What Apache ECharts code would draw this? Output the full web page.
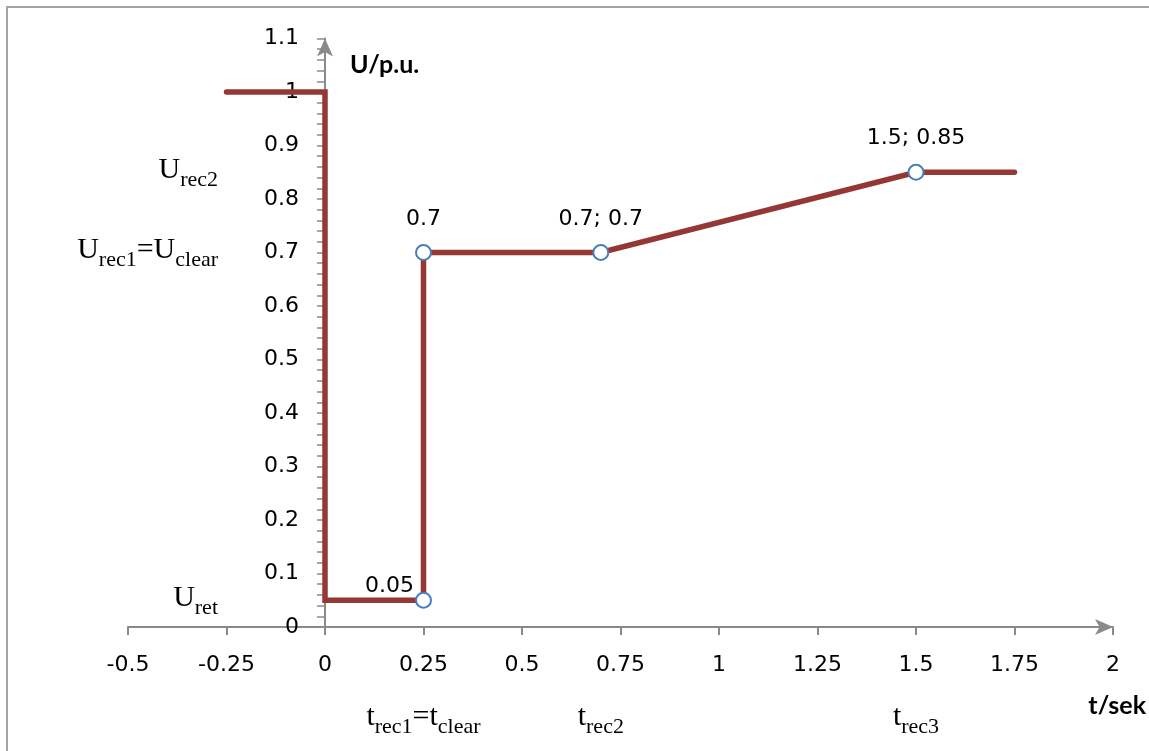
<!DOCTYPE html>
<html>
<head>
<meta charset="utf-8">
<script src="https://cdn.jsdelivr.net/npm/echarts@6/dist/echarts.min.js"></script>
<style>
html,body{margin:0;padding:0;background:#fff}
#chart{width:1149px;height:751px}
</style>
</head>
<body>
<div id="chart"></div>
<script>
// 电压曲线 (t, U)
var tVals=[-0.25,0,0,0.25,0.25,0.7,1.5,1.75];
var uVals=[1,1,0.05,0.05,0.7,0.7,0.85,0.85];
var pointLabels=['','','','0.05','0.7','0.7; 0.7','1.5; 0.85',''];
// 坐标轴范围
var xMin=-0.5,xMax=2,xStep=0.25;
var yMin=0,yMax=1.1,yStep=0.1;
// 左侧电压标注
var uLevelTexts=['{a|U}{b|rec2}','{a|U}{b|rec1}{a|=U}{b|clear}','{a|U}{b|ret}'];
var uLevelValues=[0.85,0.7,0.05];
// 下方时间标注
var tMarkTexts=['{a|t}{b|rec1}{a|=t}{b|clear}','{a|t}{b|rec2}','{a|t}{b|rec3}'];
var tMarkValues=[0.25,0.7,1.5];
var yName='U/p.u.', xName='t/sek';

var lineColor='#953735', axisColor='#8a8a8a', dotColor='#4a7ebb';
var labelFont='DejaVu Sans', serifFont='Liberation Serif';
var gridLeft=128;

var chart=echarts.init(document.getElementById('chart'));

var seriesData=tVals.map(function(t,i){
  var item={value:[t,uVals[i]]};
  if(pointLabels[i]){
    item.symbol='circle';
    item.symbolSize=15;
    item.label={show:true,formatter:pointLabels[i]};
    if(i===3){
      item.label.position='left';
      item.label.distance=1;
      item.label.offset=[0,-14];
    }
  }else{
    item.symbol='none';
  }
  return item;
});

var richSub={
  a:{fontFamily:serifFont,fontSize:30,lineHeight:30,verticalAlign:'top',color:'#000'},
  b:{fontFamily:serifFont,fontSize:22,lineHeight:22,verticalAlign:'top',padding:[14,0,0,0],color:'#000'}
};

chart.setOption({
  animation:false,
  backgroundColor:'#fff',
  grid:{left:gridLeft,right:36,top:38.5,bottom:124,containLabel:false},
  xAxis:{
    type:'value',min:xMin,max:xMax,interval:xStep,
    axisLine:{onZero:true,symbol:['none','arrow'],symbolSize:[12,18],lineStyle:{color:axisColor,width:2}},
    axisTick:{show:true,length:8,inside:false,lineStyle:{color:axisColor,width:2}},
    axisLabel:{margin:27,fontFamily:labelFont,fontSize:22,color:'#000'},
    splitLine:{show:false}
  },
  yAxis:{
    type:'value',min:yMin,max:yMax,interval:yStep,
    axisLine:{onZero:false,symbol:['none','arrow'],symbolSize:[12,18],lineStyle:{color:axisColor,width:2}},
    axisTick:{show:true,length:8,lineStyle:{color:axisColor,width:1.5}},
    minorTick:{show:true,splitNumber:5,length:8,lineStyle:{color:axisColor,width:1.5}},
    axisLabel:{margin:26,fontFamily:labelFont,fontSize:22,color:'#000'},
    splitLine:{show:false}
  },
  series:[{
    type:'line',
    data:seriesData,
    lineStyle:{color:lineColor,width:5.5,cap:'round',join:'miter'},
    itemStyle:{color:'#fff',borderColor:dotColor,borderWidth:2},
    label:{position:'top',distance:14,fontFamily:labelFont,fontSize:22,color:'#000'},
    emphasis:{disabled:true},
    z:3
  }]
});

// y轴移到 t=0 处
var zeroX=chart.convertToPixel({gridIndex:0},[0,yMin]);
chart.setOption({yAxis:{offset:-(zeroX[0]-gridLeft)}});

// 标注文字 按坐标换算位置
function drawAnnotations(){
  var g=[];
  g.push({type:'rect',shape:{x:7,y:7,width:1300,height:900},style:{fill:'none',stroke:'#a3a3a3',lineWidth:2},silent:true});
  uLevelValues.forEach(function(v,i){
    var p=chart.convertToPixel({gridIndex:0},[xMin,v]);
    g.push({type:'text',x:218,y:p[1]-17,style:{text:uLevelTexts[i],rich:richSub,align:'right',verticalAlign:'top'},silent:true});
  });
  tMarkValues.forEach(function(v,i){
    var p=chart.convertToPixel({gridIndex:0},[v,yMin]);
    g.push({type:'text',x:p[0],y:p[1]+75,style:{text:tMarkTexts[i],rich:richSub,align:'center',verticalAlign:'top'},silent:true});
  });
  var top=chart.convertToPixel({gridIndex:0},[0,yMax]);
  g.push({type:'text',x:top[0]+25,y:top[1]+26,style:{text:yName,fontFamily:'Lato',fontWeight:'bold',fontSize:25,fill:'#000',align:'left',verticalAlign:'middle'},silent:true});
  var end=chart.convertToPixel({gridIndex:0},[xMax,yMin]);
  g.push({type:'text',x:end[0]+33,y:end[1]+79,style:{text:xName,fontFamily:'Lato',fontWeight:'bold',fontSize:25,fill:'#000',align:'right',verticalAlign:'middle'},silent:true});
  chart.setOption({graphic:g});
}
drawAnnotations();
</script>
</body>
</html>
